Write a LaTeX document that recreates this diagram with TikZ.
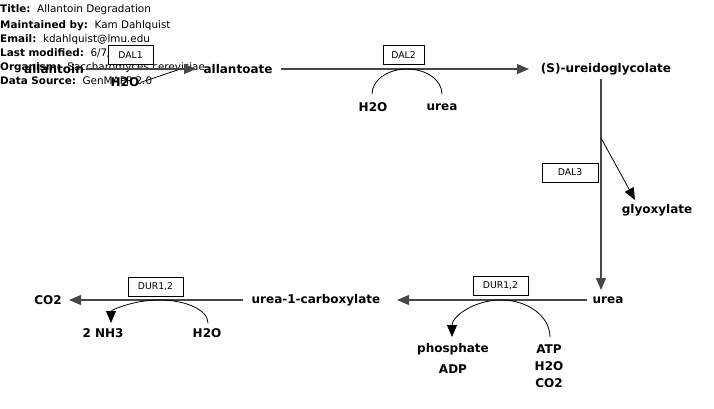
\documentclass[tikz,border=0pt]{standalone}
\usepackage{fontspec}
\setmainfont{DejaVu Sans}
\usetikzlibrary{arrows.meta}
\begin{document}
\begin{tikzpicture}[x=1pt,y=-1pt,
  hdr/.style={anchor=west,inner sep=0pt,font=\fontsize{10.4}{12}\selectfont},
  met/.style={inner sep=1pt,font=\fontsize{12}{14}\selectfont\bfseries},
  enz/.style={draw=black,fill=white,line width=0.8pt,inner sep=0pt,minimum height=19pt,font=\fontsize{9.3}{11}\selectfont},
  mainln/.style={draw=black!72,line width=1.2pt},
  tip/.style={-{Triangle[length=12pt,width=10pt]}},
  arcln/.style={draw=black,line width=0.8pt}]
\useasboundingbox (0,0) rectangle (714,408);
% header
\node[hdr] (h1) at (0,10) {\textbf{Title:}\ \ Allantoin Degradation};
\node[hdr] (h2) at (0,25.5) {\textbf{Maintained by:}\ \ Kam Dahlquist};
\node[hdr] (h3) at (0,40) {\textbf{Email:}\ \ kdahlquist@lmu.edu};
\node[hdr] (h4) at (0,53.5) {\textbf{Last modified:}\ \ 6/7/2002};
\node[hdr] (h5) at (0,68) {\textbf{Organism:}\ \ Saccharomyces cerevisiae};
\node[hdr] (h6) at (0,80.5) {\textbf{Data Source:}\ \ GenMAPP 2.0};
% metabolites
\node[met] (allantoin) at (54,69.5) {allantoin};
\node[met] (allantoate) at (238,69.5) {allantoate};
\node[met] (ureido) at (606,69.5) {(S)-ureidoglycolate};
\node[met] (glyox) at (657,210.5) {glyoxylate};
\node[met] (urea) at (608,300.5) {urea};
\node[met] (u1c) at (316,300.5) {urea-1-carboxylate};
\node[met] (co2) at (48,300.5) {CO2};
\node[met] (h2oA) at (125,82.5) {H2O};
\node[met] (h2oB) at (373,107.5) {H2O};
\node[met] (ureaB) at (442,107.5) {urea};
\node[met] (phos) at (453,349.5) {phosphate};
\node[met] (adp) at (453,369.5) {ADP};
\node[met] (atp) at (549,349.5) {ATP};
\node[met] (h2oC) at (549,366.5) {H2O};
\node[met] (co2C) at (549,383.5) {CO2};
\node[met] (nh3) at (103,333.5) {2 NH3};
\node[met] (h2oD) at (207,333.5) {H2O};
% helper coordinates
\coordinate (d1s) at (86,69);
\coordinate (d1e) at (196,69);
\coordinate (d1j) at (179,69.5);
\coordinate (d2s) at (281,69);
\coordinate (d2e) at (529,69);
\coordinate (d3s) at (601,79);
\coordinate (d3e) at (601,290);
\coordinate (d3b) at (601,138);
\coordinate (d3g) at (635,200);
\coordinate (d4s) at (587,300);
\coordinate (d4e) at (397,300);
\coordinate (d5s) at (243,300);
\coordinate (d5e) at (69,300);
% main reactions
\draw[mainln,tip] (d1s) -- (d1e);
\draw[arcln] (h2oA.east) -- (d1j);
\draw[mainln,tip] (d2s) -- (d2e);
\draw[mainln,tip] (d3s) -- (d3e);
\draw[arcln,tip] (d3b) -- (d3g);
\draw[mainln,tip] (d4s) -- (d4e);
\draw[mainln,tip] (d5s) -- (d5e);
% side arcs
\draw[arcln] (372,94) arc[start angle=180,end angle=360,x radius=35,y radius=25];
\draw[arcln,tip] (550,337) arc[start angle=0,end angle=-180,x radius=49,y radius=37];
\draw[arcln,tip] (208,323) arc[start angle=0,end angle=-180,x radius=48.5,y radius=23];
% enzyme boxes
\node[enz,minimum width=45pt] (dal1) at (130.5,55) {DAL1};
\node[enz,minimum width=41pt] (dal2) at (403.5,55) {DAL2};
\node[enz,minimum width=56pt] (dal3) at (570,172.5) {DAL3};
\node[enz,minimum width=55pt] (dur1) at (500.5,286) {DUR1,2};
\node[enz,minimum width=55pt] (dur2) at (155.5,287) {DUR1,2};
\end{tikzpicture}
\end{document}
